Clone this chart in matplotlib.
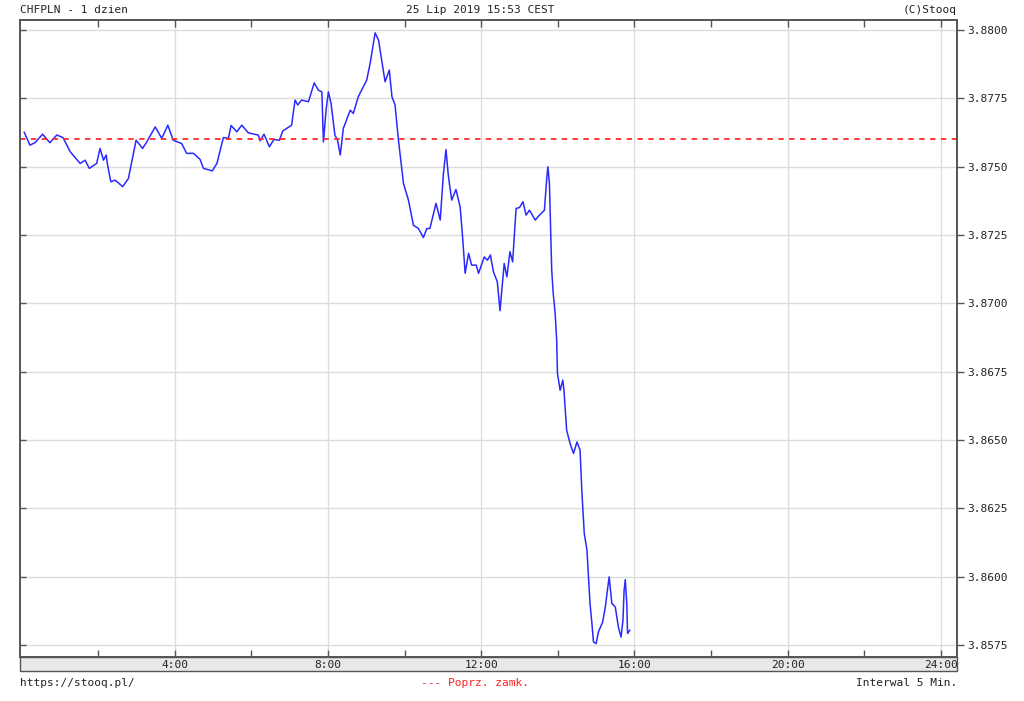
import numpy as np
import matplotlib.pyplot as plt
from matplotlib.patches import Rectangle

# CHFPLN intraday, 25 Jul 2019 (hours since midnight, price)
hours = [0.07, 0.22, 0.35, 0.55, 0.74, 0.92, 1.08, 1.27, 1.53, 1.66, 1.77, 1.96,
         2.05, 2.14, 2.21, 2.24, 2.33, 2.44, 2.53, 2.64, 2.79, 2.99, 3.16, 3.27,
         3.49, 3.66, 3.82, 3.96, 4.18, 4.31, 4.49, 4.66, 4.75, 4.98, 5.10, 5.27,
         5.40, 5.47, 5.62, 5.75, 5.92, 6.18, 6.23, 6.33, 6.47, 6.59, 6.73, 6.82,
         7.05, 7.14, 7.21, 7.31, 7.49, 7.64, 7.75, 7.84, 7.88, 7.95, 8.01, 8.08,
         8.18, 8.25, 8.32, 8.40, 8.58, 8.66, 8.79, 9.01, 9.10, 9.23, 9.32, 9.49,
         9.60, 9.67, 9.75, 9.84, 9.97, 10.10, 10.23, 10.36, 10.49, 10.58, 10.66,
         10.82, 10.93, 11.01, 11.08, 11.14, 11.23, 11.34, 11.45, 11.52, 11.58,
         11.67, 11.75, 11.87, 11.93, 12.08, 12.16, 12.24, 12.32, 12.42, 12.49,
         12.60, 12.67, 12.75, 12.82, 12.91, 13.00, 13.09, 13.17, 13.26, 13.41,
         13.52, 13.65, 13.71, 13.74, 13.78, 13.80, 13.84, 13.88, 13.93, 13.97,
         13.99, 14.06, 14.13, 14.16, 14.23, 14.32, 14.41, 14.50, 14.58, 14.63,
         14.69, 14.76, 14.80, 14.84, 14.89, 14.93, 15.00, 15.06, 15.17, 15.24,
         15.30, 15.34, 15.41, 15.50, 15.58, 15.65, 15.70, 15.73, 15.76, 15.80,
         15.82, 15.88]
prices = [3.87626, 3.87579, 3.87588, 3.87619, 3.87588, 3.87616, 3.87607, 3.87555,
          3.87512, 3.87524, 3.87494, 3.87512, 3.87567, 3.87524, 3.87543, 3.87512,
          3.87445, 3.87451, 3.87441, 3.87427, 3.87457, 3.87597, 3.87567, 3.87591,
          3.87646, 3.87604, 3.87652, 3.87597, 3.87585, 3.87549, 3.87549, 3.87527,
          3.87494, 3.87485, 3.87512, 3.87607, 3.87604, 3.87651, 3.87628, 3.87652,
          3.87624, 3.87616, 3.87595, 3.87619, 3.87573, 3.87600, 3.87597, 3.87631,
          3.87652, 3.87744, 3.87726, 3.87744, 3.87738, 3.87807, 3.87780, 3.87774,
          3.87591, 3.87707, 3.87774, 3.87732, 3.87616, 3.87597, 3.87543, 3.87640,
          3.87707, 3.87695, 3.87756, 3.87817, 3.87878, 3.87990, 3.87963, 3.87811,
          3.87854, 3.87756, 3.87726, 3.87597, 3.87439, 3.87378, 3.87286, 3.87274,
          3.87241, 3.87274, 3.87274, 3.87366, 3.87305, 3.87469, 3.87563, 3.87469,
          3.87378, 3.87417, 3.87353, 3.87231, 3.87110, 3.87183, 3.87140, 3.87140,
          3.87110, 3.87170, 3.87158, 3.87177, 3.87115, 3.87079, 3.86973, 3.87146,
          3.87097, 3.87189, 3.87152, 3.87347, 3.87351, 3.87372, 3.87323, 3.87341,
          3.87305, 3.87323, 3.87341, 3.87457, 3.87500, 3.87439, 3.87329, 3.87122,
          3.87036, 3.86963, 3.86865, 3.86744, 3.86682, 3.86719, 3.86682, 3.86536,
          3.86487, 3.86451, 3.86493, 3.86463, 3.86304, 3.86158, 3.86097, 3.85999,
          3.85902, 3.85828, 3.85761, 3.85755, 3.85798, 3.85834, 3.85889, 3.85957,
          3.85999, 3.85902, 3.85889, 3.85816, 3.85779, 3.85841, 3.85950, 3.85989,
          3.85902, 3.85792, 3.85804]
prev_close = 3.8760

x_major = [4, 8, 12, 16, 20, 24]
x_labels = ['4:00', '8:00', '12:00', '16:00', '20:00', '24:00']
y_ticks = [3.8575, 3.8600, 3.8625, 3.8650, 3.8675, 3.8700, 3.8725, 3.8750, 3.8775, 3.8800]

mono = 'DejaVu Sans Mono'
frame = '#555555'

fig = plt.figure(figsize=(10.24, 7.01), dpi=100)
ax = fig.add_axes([20/1024, 1-657/701, 937/1024, 637/701])

ax.plot(hours, prices, color='#2a2aff', lw=1.1)
ax.axhline(prev_close, color='#ff2a2a', lw=1.3, ls=(0, (3, 3)))

ax.set_xlim(-0.04, 24.42)
ax.set_ylim(3.85706, 3.88037)

ax.set_xticks(x_major)
ax.set_xticklabels(x_labels)
ax.set_xticks(np.arange(2, 25, 4), minor=True)
ax.set_yticks(y_ticks)
ax.set_yticklabels(['%.4f' % v for v in y_ticks])

ax.grid(True, which='major', color='#dcdcdc', lw=1)
ax.set_axisbelow(True)

ax.yaxis.tick_right()
ax.tick_params(axis='y', which='major', direction='out', length=5, width=1,
               color=frame, labelsize=8, pad=2, left=True, right=True)
ax.tick_params(axis='x', which='both', direction='in', length=5, width=1,
               color=frame, labelsize=8, pad=2.5, top=True, bottom=True)
for lab in ax.get_xticklabels() + ax.get_yticklabels():
    lab.set_family(mono)
    lab.set_color('#222222')
# left-side y ticks point into the plot
for t in ax.yaxis.get_major_ticks():
    t.tick1line.set_marker(1)
    t.tick1line.set_markersize(4)

for s in ax.spines.values():
    s.set_color(frame)
    s.set_linewidth(1.4)

# grey band under the plot holding the time labels
fig.patches.append(Rectangle((20/1024, 1-671/701), 937/1024, 14/701,
                             transform=fig.transFigure, facecolor='#e8e8e8',
                             edgecolor=frame, lw=1, zorder=-1))

fig.text(20/1024, 1-10/701, 'CHFPLN - 1 dzien', family=mono, fontsize=8,
         va='center', ha='left', color='#222222')
fig.text(480/1024, 1-10/701, '25 Lip 2019 15:53 CEST', family=mono, fontsize=8,
         va='center', ha='center', color='#222222')
fig.text(957/1024, 1-10/701, '(C)Stooq', family=mono, fontsize=8,
         va='center', ha='right', color='#222222')
fig.text(20/1024, 1-683/701, 'https://stooq.pl/', family=mono, fontsize=8,
         va='center', ha='left', color='#222222')
fig.text(475/1024, 1-683/701, '--- Poprz. zamk.', family=mono, fontsize=8,
         va='center', ha='center', color='#ff2020')
fig.text(957/1024, 1-683/701, 'Interwal 5 Min.', family=mono, fontsize=8,
         va='center', ha='right', color='#222222')

fig.savefig('out.png', dpi=100, facecolor='white')
